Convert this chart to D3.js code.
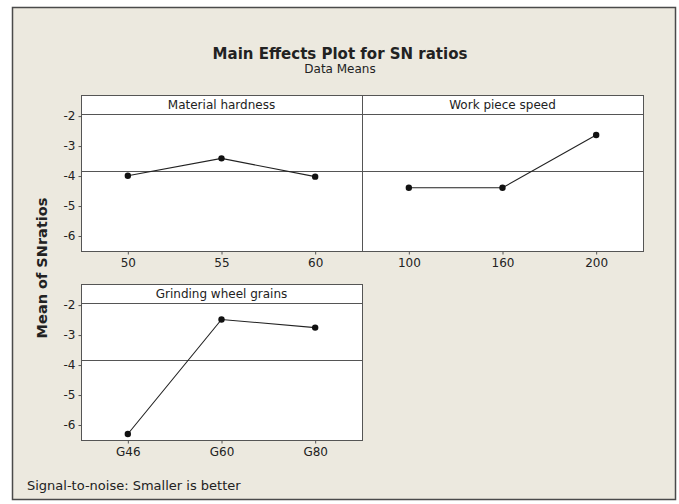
<!DOCTYPE html>
<html>
<head>
<meta charset="utf-8">
<script src="https://cdn.jsdelivr.net/npm/d3@7"></script>
<style>
  body { margin: 0; background: #fff; }
  svg text { font-family: 'DejaVu Sans', sans-serif; fill: #222; }
</style>
</head>
<body>
<div class="chart"></div>
<script>
const width = 679
const height = 504

// factor levels and mean SN ratios
const hardnessLevels = ['50', '55', '60']
const hardnessSN = [-3.99, -3.41, -4.02]
const speedLevels = ['100', '160', '200']
const speedSN = [-4.39, -4.39, -2.63]
const grainLevels = ['G46', 'G60', 'G80']
const grainSN = [-6.3, -2.48, -2.75]
const yTicks = [-2, -3, -4, -5, -6]
const grandMean = -3.82

const theme = {
  back: '#ece9df',
  frame: '#4a4a4a',
  border: '#555',
  line: '#222'
}

const panels = [
  { name: 'Material hardness', levels: hardnessLevels, values: hardnessSN, col: 0, row: 0, yAxis: true },
  { name: 'Work piece speed', levels: speedLevels, values: speedSN, col: 1, row: 0, yAxis: false },
  { name: 'Grinding wheel grains', levels: grainLevels, values: grainSN, col: 0, row: 1, yAxis: true }
]

const colX = [81, 362]
const colW = 281
const rows = [
  { head: 95, top: 114, bottom: 251 },
  { head: 284, top: 303, bottom: 440 }
]

const svg = d3.select('.chart')
  .append('svg')
  .attr('width', width)
  .attr('height', height)

svg.append('rect')
  .attr('x', 12.5)
  .attr('y', 7.5)
  .attr('width', 663)
  .attr('height', 492)
  .attr('fill', theme.back)
  .attr('stroke', theme.frame)
  .attr('stroke-width', 1.5)

svg.append('text')
  .attr('x', 340)
  .attr('y', 59)
  .attr('text-anchor', 'middle')
  .style('font-size', '15px')
  .style('font-weight', 'bold')
  .text('Main Effects Plot for SN ratios')

svg.append('text')
  .attr('x', 340)
  .attr('y', 73)
  .attr('text-anchor', 'middle')
  .style('font-size', '12px')
  .text('Data Means')

svg.append('text')
  .attr('transform', 'translate(47,268) rotate(-90)')
  .attr('text-anchor', 'middle')
  .style('font-size', '14.5px')
  .style('font-weight', 'bold')
  .text('Mean of SNratios')

svg.append('text')
  .attr('x', 27)
  .attr('y', 490)
  .style('font-size', '13px')
  .text('Signal-to-noise: Smaller is better')

panels.forEach(p => {
  const r = rows[p.row]
  const x0 = colX[p.col]
  const x = d3.scalePoint().domain(p.levels).range([x0, x0 + colW]).padding(0.5)
  const y = d3.scaleLinear().domain([-6.5, -1.93]).range([r.bottom, r.top])
  const g = svg.append('g')

  g.append('rect')
    .attr('x', x0 + 0.5)
    .attr('y', r.head + 0.5)
    .attr('width', colW)
    .attr('height', r.bottom - r.head)
    .attr('fill', '#fff')
    .attr('stroke', theme.border)

  g.append('line')
    .attr('x1', x0)
    .attr('x2', x0 + colW)
    .attr('y1', r.top + 0.5)
    .attr('y2', r.top + 0.5)
    .attr('stroke', theme.border)

  g.append('text')
    .attr('x', x0 + colW / 2)
    .attr('y', r.head + 14)
    .attr('text-anchor', 'middle')
    .style('font-size', '12px')
    .text(p.name)

  // overall mean reference line
  g.append('line')
    .attr('x1', x0)
    .attr('x2', x0 + colW)
    .attr('y1', Math.round(y(grandMean)) + 0.5)
    .attr('y2', Math.round(y(grandMean)) + 0.5)
    .attr('stroke', theme.border)

  const pts = p.levels.map((l, i) => ({ l: l, v: p.values[i] }))

  g.append('path')
    .datum(pts)
    .attr('fill', 'none')
    .attr('stroke', theme.line)
    .attr('stroke-width', 1.1)
    .attr('d', d3.line().x(d => x(d.l)).y(d => y(d.v)))

  g.selectAll('circle')
    .data(pts)
    .enter()
    .append('circle')
    .attr('cx', d => x(d.l))
    .attr('cy', d => y(d.v))
    .attr('r', 3.2)
    .attr('fill', '#111')

  const xAxis = g.append('g')
    .attr('transform', `translate(0,${r.bottom + 0.5})`)
    .call(d3.axisBottom(x).tickSize(3).tickPadding(4).tickSizeOuter(0))
  xAxis.select('.domain').remove()
  xAxis.selectAll('line').attr('stroke', theme.border)
  xAxis.selectAll('text').style('font-size', '12px').style('font-family', null)

  if (p.yAxis) {
    const yAxis = g.append('g')
      .attr('transform', `translate(${x0 + 0.5},0)`)
      .call(d3.axisLeft(y).tickValues(yTicks).tickFormat(d => String(d)).tickSize(3).tickPadding(3).tickSizeOuter(0))
    yAxis.select('.domain').remove()
    yAxis.selectAll('line').attr('stroke', theme.border)
    yAxis.selectAll('text').style('font-size', '12px').style('font-family', null)
  }
})
</script>
</body>
</html>
